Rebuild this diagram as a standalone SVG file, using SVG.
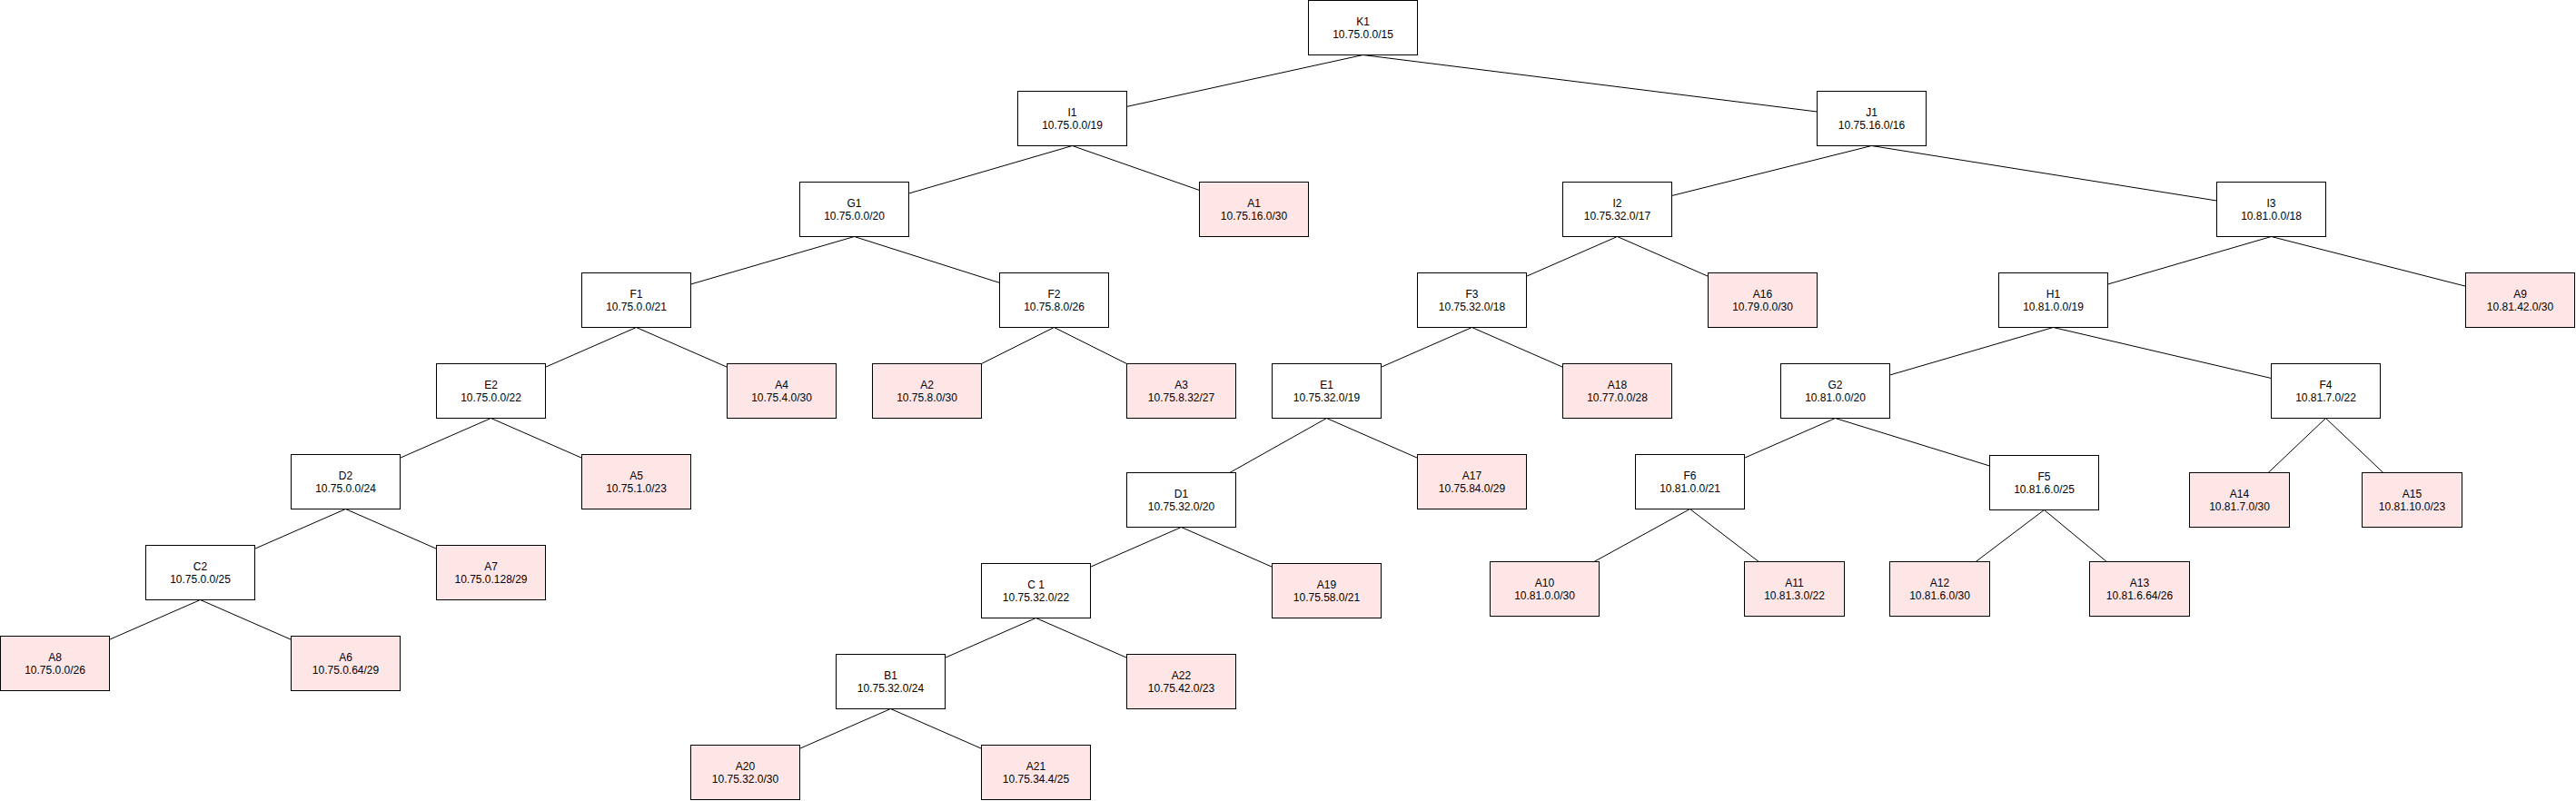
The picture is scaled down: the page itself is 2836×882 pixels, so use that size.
<svg xmlns="http://www.w3.org/2000/svg" width="2836" height="882" viewBox="0 0 2836 882">
<style>
.n{fill:#ffffff;stroke:#000000;stroke-width:1}
.a{fill:#ffe6e6;stroke:#000000;stroke-width:1}
.t{font-family:"Liberation Sans",Arial,Helvetica,sans-serif;font-size:12px;fill:#000000;text-anchor:middle}
#edges line{stroke:#000000;stroke-width:1;fill:none}
</style>
<rect x="0" y="0" width="2836" height="882" fill="#ffffff"/>
<g transform="translate(0.5,0.5)">
<g id="edges">
<line x1="1500" y1="60" x2="1240" y2="116.9"/>
<line x1="1500" y1="60" x2="2000" y2="122.5"/>
<line x1="1180" y1="160" x2="1000" y2="212.5"/>
<line x1="1180" y1="160" x2="1320" y2="209"/>
<line x1="2060" y1="160" x2="1840" y2="215"/>
<line x1="2060" y1="160" x2="2440" y2="220.5"/>
<line x1="940" y1="260" x2="760" y2="312.5"/>
<line x1="940" y1="260" x2="1100" y2="310.9"/>
<line x1="1780" y1="260" x2="1680" y2="303.75"/>
<line x1="1780" y1="260" x2="1880" y2="303.75"/>
<line x1="2500" y1="260" x2="2320" y2="312.5"/>
<line x1="2500" y1="260" x2="2714" y2="314.7"/>
<line x1="700" y1="360" x2="600" y2="403.75"/>
<line x1="700" y1="360" x2="800" y2="403.75"/>
<line x1="1160" y1="360" x2="1080" y2="400"/>
<line x1="1160" y1="360" x2="1240" y2="400"/>
<line x1="1620" y1="360" x2="1520" y2="403.75"/>
<line x1="1620" y1="360" x2="1720" y2="403.75"/>
<line x1="2260" y1="360" x2="2080" y2="412.5"/>
<line x1="2260" y1="360" x2="2500" y2="416"/>
<line x1="540" y1="460" x2="440" y2="503.75"/>
<line x1="540" y1="460" x2="640" y2="503.75"/>
<line x1="1460" y1="460" x2="1353.3" y2="520"/>
<line x1="1460" y1="460" x2="1560" y2="503.75"/>
<line x1="2020" y1="460" x2="1920" y2="503.75"/>
<line x1="2020" y1="460" x2="2190" y2="512.5"/>
<line x1="2560" y1="460" x2="2496.7" y2="520"/>
<line x1="2560" y1="460" x2="2623.3" y2="520"/>
<line x1="380" y1="560" x2="280" y2="603.75"/>
<line x1="380" y1="560" x2="480" y2="603.75"/>
<line x1="1300" y1="580" x2="1200" y2="623.75"/>
<line x1="1300" y1="580" x2="1400" y2="623.75"/>
<line x1="1860" y1="560" x2="1754.5" y2="618"/>
<line x1="1860" y1="560" x2="1935.8" y2="618"/>
<line x1="2250" y1="561" x2="2174.7" y2="618"/>
<line x1="2250" y1="561" x2="2318.8" y2="618"/>
<line x1="220" y1="660" x2="120" y2="703.75"/>
<line x1="220" y1="660" x2="320" y2="703.75"/>
<line x1="1140" y1="680" x2="1040" y2="723.75"/>
<line x1="1140" y1="680" x2="1240" y2="723.75"/>
<line x1="980" y1="780" x2="880" y2="823.75"/>
<line x1="980" y1="780" x2="1080" y2="823.75"/>
</g>
<g id="K1"><rect class="n" x="1440" y="0" width="120" height="60"/><text class="t" x="1500" y="27">K1</text><text class="t" x="1500" y="41.5">10.75.0.0/15</text></g>
<g id="I1"><rect class="n" x="1120" y="100" width="120" height="60"/><text class="t" x="1180" y="127">I1</text><text class="t" x="1180" y="141.5">10.75.0.0/19</text></g>
<g id="J1"><rect class="n" x="2000" y="100" width="120" height="60"/><text class="t" x="2060" y="127">J1</text><text class="t" x="2060" y="141.5">10.75.16.0/16</text></g>
<g id="G1"><rect class="n" x="880" y="200" width="120" height="60"/><text class="t" x="940" y="227">G1</text><text class="t" x="940" y="241.5">10.75.0.0/20</text></g>
<g id="A1"><rect class="a" x="1320" y="200" width="120" height="60"/><text class="t" x="1380" y="227">A1</text><text class="t" x="1380" y="241.5">10.75.16.0/30</text></g>
<g id="I2"><rect class="n" x="1720" y="200" width="120" height="60"/><text class="t" x="1780" y="227">I2</text><text class="t" x="1780" y="241.5">10.75.32.0/17</text></g>
<g id="I3"><rect class="n" x="2440" y="200" width="120" height="60"/><text class="t" x="2500" y="227">I3</text><text class="t" x="2500" y="241.5">10.81.0.0/18</text></g>
<g id="F1"><rect class="n" x="640" y="300" width="120" height="60"/><text class="t" x="700" y="327">F1</text><text class="t" x="700" y="341.5">10.75.0.0/21</text></g>
<g id="F2"><rect class="n" x="1100" y="300" width="120" height="60"/><text class="t" x="1160" y="327">F2</text><text class="t" x="1160" y="341.5">10.75.8.0/26</text></g>
<g id="F3"><rect class="n" x="1560" y="300" width="120" height="60"/><text class="t" x="1620" y="327">F3</text><text class="t" x="1620" y="341.5">10.75.32.0/18</text></g>
<g id="A16"><rect class="a" x="1880" y="300" width="120" height="60"/><text class="t" x="1940" y="327">A16</text><text class="t" x="1940" y="341.5">10.79.0.0/30</text></g>
<g id="H1"><rect class="n" x="2200" y="300" width="120" height="60"/><text class="t" x="2260" y="327">H1</text><text class="t" x="2260" y="341.5">10.81.0.0/19</text></g>
<g id="A9"><rect class="a" x="2714" y="300" width="120" height="60"/><text class="t" x="2774" y="327">A9</text><text class="t" x="2774" y="341.5">10.81.42.0/30</text></g>
<g id="E2"><rect class="n" x="480" y="400" width="120" height="60"/><text class="t" x="540" y="427">E2</text><text class="t" x="540" y="441.5">10.75.0.0/22</text></g>
<g id="A4"><rect class="a" x="800" y="400" width="120" height="60"/><text class="t" x="860" y="427">A4</text><text class="t" x="860" y="441.5">10.75.4.0/30</text></g>
<g id="A2"><rect class="a" x="960" y="400" width="120" height="60"/><text class="t" x="1020" y="427">A2</text><text class="t" x="1020" y="441.5">10.75.8.0/30</text></g>
<g id="A3"><rect class="a" x="1240" y="400" width="120" height="60"/><text class="t" x="1300" y="427">A3</text><text class="t" x="1300" y="441.5">10.75.8.32/27</text></g>
<g id="E1"><rect class="n" x="1400" y="400" width="120" height="60"/><text class="t" x="1460" y="427">E1</text><text class="t" x="1460" y="441.5">10.75.32.0/19</text></g>
<g id="A18"><rect class="a" x="1720" y="400" width="120" height="60"/><text class="t" x="1780" y="427">A18</text><text class="t" x="1780" y="441.5">10.77.0.0/28</text></g>
<g id="G2"><rect class="n" x="1960" y="400" width="120" height="60"/><text class="t" x="2020" y="427">G2</text><text class="t" x="2020" y="441.5">10.81.0.0/20</text></g>
<g id="F4"><rect class="n" x="2500" y="400" width="120" height="60"/><text class="t" x="2560" y="427">F4</text><text class="t" x="2560" y="441.5">10.81.7.0/22</text></g>
<g id="D2"><rect class="n" x="320" y="500" width="120" height="60"/><text class="t" x="380" y="527">D2</text><text class="t" x="380" y="541.5">10.75.0.0/24</text></g>
<g id="A5"><rect class="a" x="640" y="500" width="120" height="60"/><text class="t" x="700" y="527">A5</text><text class="t" x="700" y="541.5">10.75.1.0/23</text></g>
<g id="D1"><rect class="n" x="1240" y="520" width="120" height="60"/><text class="t" x="1300" y="547">D1</text><text class="t" x="1300" y="561.5">10.75.32.0/20</text></g>
<g id="A17"><rect class="a" x="1560" y="500" width="120" height="60"/><text class="t" x="1620" y="527">A17</text><text class="t" x="1620" y="541.5">10.75.84.0/29</text></g>
<g id="F6"><rect class="n" x="1800" y="500" width="120" height="60"/><text class="t" x="1860" y="527">F6</text><text class="t" x="1860" y="541.5">10.81.0.0/21</text></g>
<g id="F5"><rect class="n" x="2190" y="501" width="120" height="60"/><text class="t" x="2250" y="528">F5</text><text class="t" x="2250" y="542.5">10.81.6.0/25</text></g>
<g id="A14"><rect class="a" x="2410" y="520" width="110" height="60"/><text class="t" x="2465" y="547">A14</text><text class="t" x="2465" y="561.5">10.81.7.0/30</text></g>
<g id="A15"><rect class="a" x="2600" y="520" width="110" height="60"/><text class="t" x="2655" y="547">A15</text><text class="t" x="2655" y="561.5">10.81.10.0/23</text></g>
<g id="C2"><rect class="n" x="160" y="600" width="120" height="60"/><text class="t" x="220" y="627">C2</text><text class="t" x="220" y="641.5">10.75.0.0/25</text></g>
<g id="A7"><rect class="a" x="480" y="600" width="120" height="60"/><text class="t" x="540" y="627">A7</text><text class="t" x="540" y="641.5">10.75.0.128/29</text></g>
<g id="C1"><rect class="n" x="1080" y="620" width="120" height="60"/><text class="t" x="1140" y="647">C 1</text><text class="t" x="1140" y="661.5">10.75.32.0/22</text></g>
<g id="A19"><rect class="a" x="1400" y="620" width="120" height="60"/><text class="t" x="1460" y="647">A19</text><text class="t" x="1460" y="661.5">10.75.58.0/21</text></g>
<g id="A10"><rect class="a" x="1640" y="618" width="120" height="60"/><text class="t" x="1700" y="645">A10</text><text class="t" x="1700" y="659.5">10.81.0.0/30</text></g>
<g id="A11"><rect class="a" x="1920" y="618" width="110" height="60"/><text class="t" x="1975" y="645">A11</text><text class="t" x="1975" y="659.5">10.81.3.0/22</text></g>
<g id="A12"><rect class="a" x="2080" y="618" width="110" height="60"/><text class="t" x="2135" y="645">A12</text><text class="t" x="2135" y="659.5">10.81.6.0/30</text></g>
<g id="A13"><rect class="a" x="2300" y="618" width="110" height="60"/><text class="t" x="2355" y="645">A13</text><text class="t" x="2355" y="659.5">10.81.6.64/26</text></g>
<g id="A8"><rect class="a" x="0" y="700" width="120" height="60"/><text class="t" x="60" y="727">A8</text><text class="t" x="60" y="741.5">10.75.0.0/26</text></g>
<g id="A6"><rect class="a" x="320" y="700" width="120" height="60"/><text class="t" x="380" y="727">A6</text><text class="t" x="380" y="741.5">10.75.0.64/29</text></g>
<g id="B1"><rect class="n" x="920" y="720" width="120" height="60"/><text class="t" x="980" y="747">B1</text><text class="t" x="980" y="761.5">10.75.32.0/24</text></g>
<g id="A22"><rect class="a" x="1240" y="720" width="120" height="60"/><text class="t" x="1300" y="747">A22</text><text class="t" x="1300" y="761.5">10.75.42.0/23</text></g>
<g id="A20"><rect class="a" x="760" y="820" width="120" height="60"/><text class="t" x="820" y="847">A20</text><text class="t" x="820" y="861.5">10.75.32.0/30</text></g>
<g id="A21"><rect class="a" x="1080" y="820" width="120" height="60"/><text class="t" x="1140" y="847">A21</text><text class="t" x="1140" y="861.5">10.75.34.4/25</text></g>
</g>
</svg>
